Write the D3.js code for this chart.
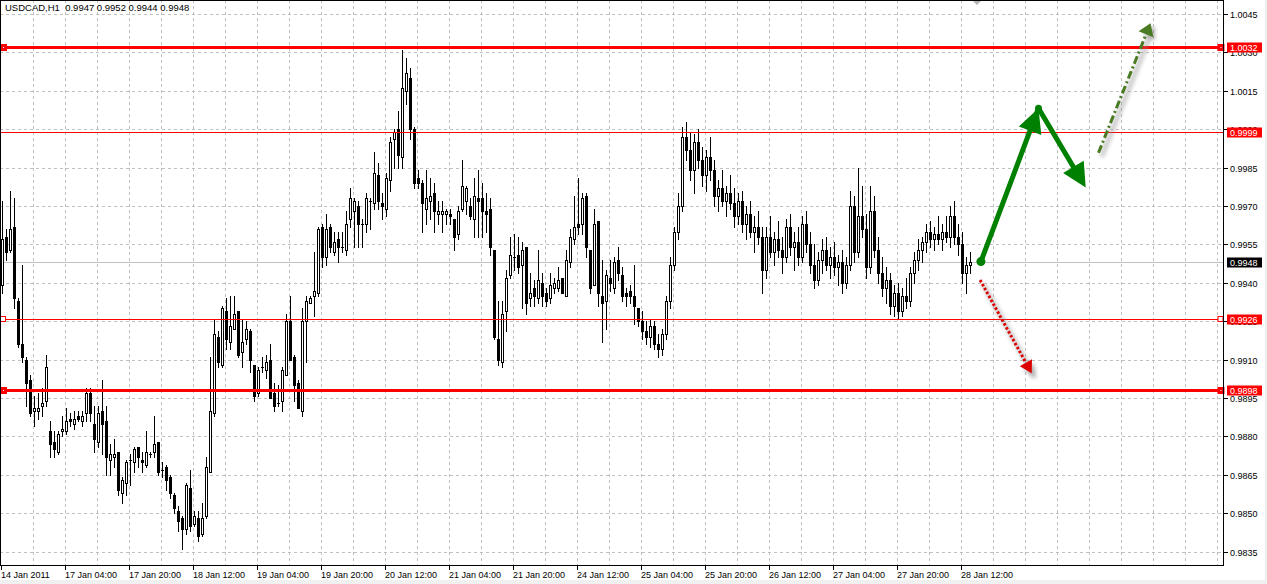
<!DOCTYPE html>
<html><head><meta charset="utf-8">
<script src="https://cdn.jsdelivr.net/npm/d3@7"></script>
<style>
body{margin:0;background:#fff;overflow:hidden;}
svg{display:block;}
text{font-family:"Liberation Sans",Arial,sans-serif;font-size:9px;fill:#000;}
</style></head><body>
<svg id="c" width="1267" height="584"></svg>
<script>
const title = "USDCAD,H1  0.9947 0.9952 0.9944 0.9948";
const opens = [0.9939,0.9958,0.9953,0.9962,0.9933,0.9916,0.9910,0.9902,0.9890,0.9890,0.9892,0.9894,0.9882,0.9878,0.9874,0.9882,0.9882,0.9887,0.9885,0.9888,0.9886,0.9889,0.9897,0.9885,0.9878,0.9890,0.9886,0.9871,0.9872,0.9874,0.9858,0.9862,0.9871,0.9870,0.9876,0.9871,0.9869,0.9873,0.9874,0.9878,0.9867,0.9868,0.9864,0.9857,0.9851,0.9848,0.9844,0.9860,0.9846,0.9848,0.9842,0.9849,0.9866,0.9889,0.9919,0.9908,0.9929,0.9917,0.9922,0.9929,0.9913,0.9918,0.9921,0.9908,0.9897,0.9907,0.9906,0.9910,0.9897,0.9893,0.9894,0.9904,0.9925,0.9911,0.9901,0.9890,0.9925,0.9932,0.9935,0.9936,0.9962,0.9950,0.9962,0.9952,0.9957,0.9954,0.9953,0.9965,0.9968,0.9970,0.9963,0.9963,0.9972,0.9971,0.9982,0.9971,0.9969,0.9980,0.9996,1.0000,0.9989,1.0015,1.0020,1.0000,0.9981,0.9979,0.9969,0.9972,0.9975,0.9967,0.9967,0.9967,0.9967,0.9965,0.9959,0.9969,0.9972,0.9970,0.9965,0.9973,0.9973,0.9968,0.9969,0.9953,0.9918,0.9909,0.9929,0.9943,0.9950,0.9951,0.9947,0.9954,0.9934,0.9938,0.9934,0.9940,0.9936,0.9934,0.9938,0.9938,0.9942,0.9935,0.9948,0.9957,0.9963,0.9963,0.9974,0.9953,0.9939,0.9964,0.9935,0.9933,0.9942,0.9938,0.9949,0.9943,0.9936,0.9937,0.9935,0.9930,
0.9925,0.9921,0.9919,0.9923,0.9916,0.9914,0.9920,0.9933,0.9947,0.9960,0.9970,0.9997,0.9992,0.9984,0.9995,0.9988,0.9982,0.9989,0.9984,0.9974,0.9977,0.9972,0.9975,0.9971,0.9966,0.9972,0.9963,0.9967,0.9960,0.9962,0.9958,0.9945,0.9958,0.9952,0.9957,0.9953,0.9950,0.9962,0.9954,0.9956,0.9950,0.9963,0.9955,0.9947,0.9941,0.9949,0.9953,0.9947,0.9950,0.9946,0.9948,0.9940,0.9947,0.9970,0.9952,0.9966,0.9961,0.9946,0.9968,0.9953,0.9944,0.9938,0.9941,0.9931,0.9936,0.9929,0.9935,0.9933,0.9944,0.9949,0.9953,0.9956,0.9960,0.9957,0.9959,0.9957,0.9960,0.9958,0.9966,0.9958,0.9955,0.9944,0.9947];
const highs = [0.9972,0.9961,0.9976,0.9973,0.9934,0.9947,0.9911,0.9904,0.9896,0.9897,0.9899,0.9912,0.9886,0.9882,0.9882,0.9888,0.9891,0.9889,0.9890,0.9890,0.9890,0.9899,0.9899,0.9892,0.9892,0.9902,0.9892,0.9877,0.9879,0.9874,0.9864,0.9871,0.9873,0.9876,0.9876,0.9874,0.9882,0.9874,0.9888,0.9878,0.9870,0.9869,0.9865,0.9858,0.9853,0.9849,0.9862,0.9867,0.9851,0.9851,0.9854,0.9872,0.9911,0.9926,0.9921,0.9931,0.9934,0.9935,0.9935,0.9929,0.9926,0.9925,0.9922,0.9908,0.9907,0.9911,0.9912,0.9916,0.9901,0.9900,0.9907,0.9928,0.9935,0.9912,0.9902,0.9930,0.9935,0.9935,0.9952,0.9962,0.9963,0.9967,0.9963,0.9960,0.9960,0.9960,0.9968,0.9977,0.9973,0.9972,0.9965,0.9975,0.9973,0.9991,0.9987,0.9975,0.9983,0.9997,1.0000,1.0007,1.0031,1.0028,1.0024,1.0001,0.9984,0.9980,0.9984,0.9981,0.9979,0.9972,0.9972,0.9969,0.9969,0.9965,0.9970,0.9988,0.9978,0.9973,0.9981,0.9984,0.9979,0.9975,0.9973,0.9953,0.9933,0.9933,0.9945,0.9958,0.9959,0.9958,0.9956,0.9954,0.9944,0.9941,0.9953,0.9944,0.9938,0.9944,0.9942,0.9946,0.9942,0.9953,0.9961,0.9974,0.9981,0.9975,0.9975,0.9953,0.9969,0.9964,0.9949,0.9945,0.9949,0.9950,0.9954,0.9946,0.9938,0.9939,0.9947,0.9930,
0.9929,0.9925,0.9926,0.9925,0.9920,0.9922,0.9935,0.9950,0.9962,0.9975,1.0001,1.0003,0.9999,0.9998,1.0000,0.9993,0.9992,0.9997,0.9988,0.9980,0.9984,0.9978,0.9982,0.9977,0.9975,0.9976,0.9970,0.9972,0.9966,0.9968,0.9962,0.9962,0.9966,0.9960,0.9964,0.9958,0.9965,0.9967,0.9960,0.9962,0.9966,0.9968,0.9960,0.9955,0.9952,0.9957,0.9958,0.9954,0.9956,0.9951,0.9953,0.9950,0.9976,0.9974,0.9985,0.9978,0.9967,0.9978,0.9974,0.9958,0.9950,0.9946,0.9944,0.9939,0.9940,0.9938,0.9942,0.9946,0.9952,0.9957,0.9958,0.9963,0.9964,0.9962,0.9966,0.9963,0.9966,0.9970,0.9972,0.9963,0.9960,0.9950,0.9952];
const lows = [0.9936,0.9949,0.9952,0.9930,0.9915,0.9909,0.9892,0.9888,0.9884,0.9887,0.9888,0.9892,0.9872,0.9872,0.9873,0.9880,0.9881,0.9884,0.9883,0.9886,0.9884,0.9886,0.9886,0.9874,0.9876,0.9873,0.9865,0.9865,0.9868,0.9857,0.9854,0.9857,0.9861,0.9866,0.9868,0.9866,0.9868,0.9872,0.9872,0.9865,0.9864,0.9859,0.9856,0.9850,0.9843,0.9836,0.9842,0.9843,0.9845,0.9839,0.9841,0.9848,0.9866,0.9888,0.9907,0.9907,0.9914,0.9914,0.9922,0.9911,0.9907,0.9916,0.9905,0.9894,0.9896,0.9905,0.9903,0.9895,0.9890,0.9892,0.9890,0.9904,0.9910,0.9894,0.9891,0.9888,0.9909,0.9932,0.9927,0.9935,0.9946,0.9947,0.9952,0.9951,0.9948,0.9952,0.9951,0.9962,0.9954,0.9954,0.9954,0.9960,0.9961,0.9969,0.9969,0.9965,0.9966,0.9976,0.9985,0.9985,0.9985,1.0010,0.9996,0.9977,0.9977,0.9960,0.9963,0.9965,0.9960,0.9963,0.9960,0.9963,0.9963,0.9953,0.9957,0.9968,0.9967,0.9965,0.9958,0.9958,0.9958,0.9960,0.9951,0.9918,0.9908,0.9907,0.9921,0.9942,0.9945,0.9944,0.9930,0.9928,0.9931,0.9931,0.9932,0.9931,0.9931,0.9932,0.9936,0.9937,0.9936,0.9935,0.9946,0.9955,0.9959,0.9959,0.9950,0.9936,0.9939,0.9931,0.9917,0.9922,0.9937,0.9936,0.9941,0.9933,0.9931,0.9932,0.9924,0.9923,
0.9918,0.9916,0.9915,0.9914,0.9911,0.9912,0.9918,0.9930,0.9945,0.9957,0.9968,0.9988,0.9980,0.9975,0.9985,0.9978,0.9976,0.9980,0.9970,0.9968,0.9970,0.9966,0.9969,0.9962,0.9963,0.9960,0.9957,0.9958,0.9952,0.9955,0.9936,0.9942,0.9950,0.9947,0.9950,0.9944,0.9948,0.9951,0.9945,0.9947,0.9948,0.9952,0.9944,0.9938,0.9939,0.9944,0.9945,0.9942,0.9943,0.9939,0.9936,0.9938,0.9945,0.9948,0.9950,0.9958,0.9942,0.9944,0.9950,0.9940,0.9935,0.9932,0.9928,0.9927,0.9926,0.9927,0.9930,0.9931,0.9940,0.9945,0.9948,0.9952,0.9954,0.9953,0.9955,0.9953,0.9956,0.9954,0.9955,0.9951,0.9940,0.9936,0.9944];
const closes = [0.9957,0.9952,0.9961,0.9934,0.9916,0.9911,0.9901,0.9889,0.9891,0.9891,0.9893,0.9907,0.9877,0.9875,0.9881,0.9883,0.9886,0.9886,0.9887,0.9887,0.9888,0.9897,0.9889,0.9879,0.9889,0.9885,0.9872,0.9873,0.9873,0.9859,0.9863,0.9870,0.9871,0.9875,0.9872,0.9870,0.9874,0.9873,0.9877,0.9866,0.9867,0.9863,0.9858,0.9852,0.9847,0.9844,0.9861,0.9845,0.9849,0.9841,0.9848,0.9868,0.9890,0.9920,0.9909,0.9930,0.9918,0.9923,0.9928,0.9912,0.9917,0.9922,0.9910,0.9896,0.9906,0.9907,0.9909,0.9895,0.9892,0.9893,0.9906,0.9925,0.9910,0.9900,0.9891,0.9925,0.9933,0.9934,0.9937,0.9961,0.9950,0.9961,0.9954,0.9956,0.9954,0.9954,0.9963,0.9973,0.9972,0.9963,0.9963,0.9973,0.9972,0.9983,0.9972,0.9970,0.9981,0.9995,0.9999,0.9990,1.0016,1.0022,1.0000,0.9979,0.9979,0.9971,0.9973,0.9974,0.9968,0.9968,0.9968,0.9968,0.9966,0.9958,0.9968,0.9978,0.9977,0.9966,0.9974,0.9972,0.9968,0.9967,0.9954,0.9919,0.9910,0.9928,0.9942,0.9951,0.9950,0.9946,0.9953,0.9932,0.9936,0.9935,0.9941,0.9935,0.9933,0.9939,0.9940,0.9941,0.9936,0.9949,0.9958,0.9962,0.9962,0.9973,0.9954,0.9938,0.9963,0.9936,0.9932,0.9943,0.9940,0.9948,0.9944,0.9935,0.9935,0.9935,0.9931,0.9925,
0.9921,0.9919,0.9923,0.9916,0.9914,0.9920,0.9933,0.9947,0.9960,0.9970,0.9997,0.9992,0.9984,0.9995,0.9988,0.9982,0.9989,0.9984,0.9974,0.9977,0.9972,0.9975,0.9971,0.9966,0.9972,0.9963,0.9967,0.9960,0.9962,0.9958,0.9945,0.9958,0.9952,0.9957,0.9953,0.9950,0.9962,0.9954,0.9956,0.9950,0.9963,0.9955,0.9947,0.9941,0.9949,0.9953,0.9947,0.9950,0.9946,0.9948,0.9940,0.9947,0.9970,0.9952,0.9966,0.9961,0.9946,0.9968,0.9953,0.9944,0.9938,0.9941,0.9931,0.9936,0.9929,0.9935,0.9933,0.9944,0.9949,0.9953,0.9956,0.9960,0.9957,0.9959,0.9957,0.9960,0.9958,0.9966,0.9958,0.9955,0.9944,0.9947,0.9948];
const timeLabels = ["14 Jan 2011","17 Jan 04:00","17 Jan 20:00","18 Jan 12:00","19 Jan 04:00","19 Jan 20:00","20 Jan 12:00","21 Jan 04:00","21 Jan 20:00","24 Jan 12:00","25 Jan 04:00","25 Jan 20:00","26 Jan 12:00","27 Jan 04:00","27 Jan 20:00","28 Jan 12:00"];
const labelStep = 16;   // bars between time labels
const gridStep = 8;     // bars between vertical grid lines
const priceTicks = [1.0045,1.0030,1.0015,1.0000,0.9985,0.9970,0.9955,0.9940,0.9925,0.9910,0.9895,0.9880,0.9865,0.9850,0.9835];
const levelPrices = [1.0032, 0.9999, 0.9926, 0.9898];
const levelLabels = ["1.0032","0.9999","0.9926","0.9898"];
const bidPrice = 0.9948, bidLabel = "0.9948";
// drawn objects, as [bar index, price]
const greenPath = [[244.6,0.99483],[259.0,1.00082],[270.8,0.99772]];
const dashDotPath = [[274.0,0.99908],[287.0,1.00414]];
const redDotPath = [[244.4,0.99411],[257.3,0.99047]];

const W=1267,H=584, L=1, R=1223.5, T=0, B=565;
const svg=d3.select("#c");
const x=d3.scaleLinear().domain([0,300]).range([1,1201]);   // left edge of a bar slot
const y=d3.scaleLinear().domain([0.9835,1.0045]).range([551.7,14]);
const py=v=>Math.round(y(v));
const n=closes.length;

svg.append("rect").attr("width",W).attr("height",H).attr("fill","#fff");
const defs=svg.append("defs");
const f=defs.append("filter").attr("id","sh").attr("x","-50%").attr("y","-50%").attr("width","200%").attr("height","200%");
f.append("feGaussianBlur").attr("stdDeviation",2.2);
defs.append("clipPath").attr("id","plot").append("rect").attr("x",1).attr("y",0).attr("width",R-1).attr("height",B);

const g=svg.append("g").attr("clip-path","url(#plot)");
// grid
const gridN=Math.floor((R-2)/ (4*gridStep));
g.append("g").selectAll("line").data(d3.range(1,gridN+1)).join("line")
 .attr("x1",k=>x(k*gridStep)+0.5).attr("x2",k=>x(k*gridStep)+0.5).attr("y1",0).attr("y2",B)
 .attr("stroke","#c0c0c0").attr("stroke-dasharray","3,3");
g.append("g").selectAll("line").data(priceTicks).join("line")
 .attr("x1",0).attr("x2",R).attr("y1",d=>py(d)+0.5).attr("y2",d=>py(d)+0.5)
 .attr("stroke","#c0c0c0").attr("stroke-dasharray","3,3");
// bid line
g.append("line").attr("x1",0).attr("x2",R).attr("y1",py(bidPrice)+0.5).attr("y2",py(bidPrice)+0.5).attr("stroke","#c0c0c0");

// candles
const bars=d3.range(n).map(i=>({i,o:opens[i],h:highs[i],l:lows[i],c:closes[i]}));
const cg=g.append("g").attr("shape-rendering","crispEdges");
cg.selectAll("rect.w").data(bars).join("rect").attr("class","w")
 .attr("x",d=>x(d.i)+1).attr("width",1).attr("y",d=>py(d.h)).attr("height",d=>py(d.l)-py(d.h)+1).attr("fill","#000");
cg.selectAll("rect.b").data(bars).join("rect").attr("class","b")
 .each(function(d){
   const s=d3.select(this);
   const yo=py(d.o), yc=py(d.c);
   if(d.c>d.o){ s.attr("x",x(d.i)+0.5).attr("y",yc+0.5).attr("width",2).attr("height",Math.max(yo-yc,1)).attr("fill","#fff").attr("stroke","#000"); }
   else if(d.c<d.o){ s.attr("x",x(d.i)).attr("y",yo).attr("width",3).attr("height",Math.max(yc-yo+1,2)).attr("fill","#000"); }
   else { s.attr("x",x(d.i)).attr("y",yo).attr("width",3).attr("height",1).attr("fill","#000"); }
 });

// level lines
const thick=[true,false,false,true];
levelPrices.forEach((p,k)=>{
  const yy=py(p);
  g.append("line").attr("x1",0).attr("x2",R).attr("y1",yy+0.5).attr("y2",yy+0.5)
   .attr("stroke","#ff0000").attr("stroke-width",thick[k]?3:1);
});
// end markers
levelPrices.forEach((p,k)=>{
  const yy=py(p);
  if(k===1) return;
  [1,R-5].forEach(xx=>{
    if(thick[k]){
      svg.append("rect").attr("x",xx-1).attr("y",yy-3).attr("width",7).attr("height",7).attr("fill","#ff0000");
      svg.append("rect").attr("x",xx+2).attr("y",yy).attr("width",1).attr("height",1).attr("fill","#fff");
    } else {
      svg.append("rect").attr("x",xx-0.5).attr("y",yy-2.5).attr("width",5).attr("height",5).attr("fill","#fff").attr("stroke","#ff0000");
    }
  });
});

// drawings
const pt=d=>[x(d[0])+1.5, y(d[1])];
function arrowHead(p0,p1,len,hw){
  const dx=p1[0]-p0[0], dy=p1[1]-p0[1], m=Math.hypot(dx,dy), ux=dx/m, uy=dy/m;
  const bx=p1[0]-ux*len, by=p1[1]-uy*len;
  return [[p1[0],p1[1]],[bx-uy*hw,by+ux*hw],[bx+uy*hw,by-ux*hw]];
}
const dg=svg.append("g");
// shadows
[[dashDotPath,"8,3,2,3"],[redDotPath,"2.5,2"]].forEach(([pth,da])=>{
  const a=pt(pth[0]), b=pt(pth[1]);
  dg.append("line").attr("x1",a[0]+3).attr("y1",a[1]+4).attr("x2",b[0]+3).attr("y2",b[1]+4)
    .attr("stroke","#8c8c8c").attr("stroke-width",4).attr("opacity",0.55).attr("filter","url(#sh)");
  dg.append("polygon").attr("points",arrowHead(a,b,12,7).map(q=>[q[0]+3,q[1]+4].join(",")).join(" "))
    .attr("fill","#8c8c8c").attr("opacity",0.55).attr("filter","url(#sh)");
});
// dash-dot olive
{
  const a=pt(dashDotPath[0]), b=pt(dashDotPath[1]);
  const hb=arrowHead(a,b,12,8);
  const bm=[(hb[1][0]+hb[2][0])/2,(hb[1][1]+hb[2][1])/2];
  dg.append("line").attr("x1",a[0]).attr("y1",a[1]).attr("x2",bm[0]).attr("y2",bm[1])
   .attr("stroke","#4a7a22").attr("stroke-width",3).attr("stroke-dasharray","8,3,2,3");
  dg.append("polygon").attr("points",hb.map(q=>q.join(",")).join(" ")).attr("fill","#4a7a22");
}
// red dotted
{
  const a=pt(redDotPath[0]), b=pt(redDotPath[1]);
  const hb=arrowHead(a,b,12,7);
  const bm=[(hb[1][0]+hb[2][0])/2,(hb[1][1]+hb[2][1])/2];
  dg.append("line").attr("x1",a[0]).attr("y1",a[1]).attr("x2",bm[0]).attr("y2",bm[1])
   .attr("stroke","#dd0000").attr("stroke-width",3).attr("stroke-dasharray","2.5,2");
  dg.append("polygon").attr("points",hb.map(q=>q.join(",")).join(" ")).attr("fill","#dd0000");
}
// green thick
{
  const ps=greenPath.map(pt);
  for(let k=0;k<ps.length-1;k++){
    const a=ps[k], b=ps[k+1];
    const hb=arrowHead(a,b,24,12);
    const bm=[(hb[1][0]+hb[2][0])/2,(hb[1][1]+hb[2][1])/2];
    const end = k===ps.length-2 ? bm : b;
    dg.append("line").attr("x1",a[0]).attr("y1",a[1]).attr("x2",end[0]).attr("y2",end[1])
      .attr("stroke","#008000").attr("stroke-width",5).attr("stroke-linecap","round");
    dg.append("polygon").attr("points",hb.map(q=>q.join(",")).join(" ")).attr("fill","#008000");
  }
  dg.append("circle").attr("cx",ps[0][0]).attr("cy",ps[0][1]).attr("r",4.5).attr("fill","#008000");
  dg.append("circle").attr("cx",ps[1][0]).attr("cy",ps[1][1]).attr("r",3.5).attr("fill","#008000");
}
// small grey marker at top
svg.append("polygon").attr("points","972,0 982,0 977,5").attr("fill","#b4b4b4");

// frame
svg.append("g").attr("shape-rendering","crispEdges").call(s=>{
  s.append("line").attr("x1",0.5).attr("x2",0.5).attr("y1",0).attr("y2",B+1).attr("stroke","#000");
  s.append("line").attr("x1",0).attr("x2",R+0.5).attr("y1",0.5).attr("y2",0.5).attr("stroke","#000");
  s.append("line").attr("x1",R).attr("x2",R).attr("y1",0).attr("y2",B+1).attr("stroke","#000");
  s.append("line").attr("x1",0).attr("x2",R+0.5).attr("y1",B+0.5).attr("y2",B+0.5).attr("stroke","#000");
});

// price axis (labels hidden under a level box are clipped to its edges, as in the terminal)
const pa=svg.append("g");
pa.selectAll("line").data(priceTicks).join("line").attr("shape-rendering","crispEdges")
  .attr("x1",R).attr("x2",R+4).attr("y1",d=>py(d)+0.5).attr("y2",d=>py(d)+0.5).attr("stroke","#000");
pa.selectAll("text").data(priceTicks).join("text")
  .attr("x",R+6.5).attr("y",d=>py(d)+4).text(d=>d.toFixed(4));

// time axis
const ta=svg.append("g");
ta.selectAll("line").data(timeLabels).join("line").attr("shape-rendering","crispEdges")
  .attr("x1",(d,k)=>x(k*labelStep)+0.5).attr("x2",(d,k)=>x(k*labelStep)+0.5).attr("y1",B).attr("y2",B+5).attr("stroke","#000");
ta.selectAll("text").data(timeLabels).join("text")
  .attr("x",(d,k)=>x(k*labelStep)).attr("y",B+12.5).text(d=>d);

// level labels
const lab=svg.append("g");
levelPrices.forEach((p,k)=>{
  const yy=py(p);
  lab.append("rect").attr("x",R+3.5).attr("y",yy-4.5).attr("width",35).attr("height",10).attr("fill","#ff0000");
  lab.append("text").attr("x",R+6.5).attr("y",yy+4).style("fill","#fff").text(levelLabels[k]);
});
{
  const yy=py(bidPrice);
  lab.append("rect").attr("x",R+3.5).attr("y",yy-4.5).attr("width",35).attr("height",10).attr("fill","#000");
  lab.append("text").attr("x",R+6.5).attr("y",yy+4).style("fill","#fff").text(bidLabel);
}

// title
svg.append("text").attr("x",5).attr("y",11).style("font-size","9.5px").attr("xml:space","preserve").text(title);

// window edge
svg.append("rect").attr("x",0).attr("y",580).attr("width",W).attr("height",4).attr("fill","#f0f0f0");
svg.append("rect").attr("x",1265).attr("y",0).attr("width",2).attr("height",H).attr("fill","#f0f0f0");
</script>
</body></html>
